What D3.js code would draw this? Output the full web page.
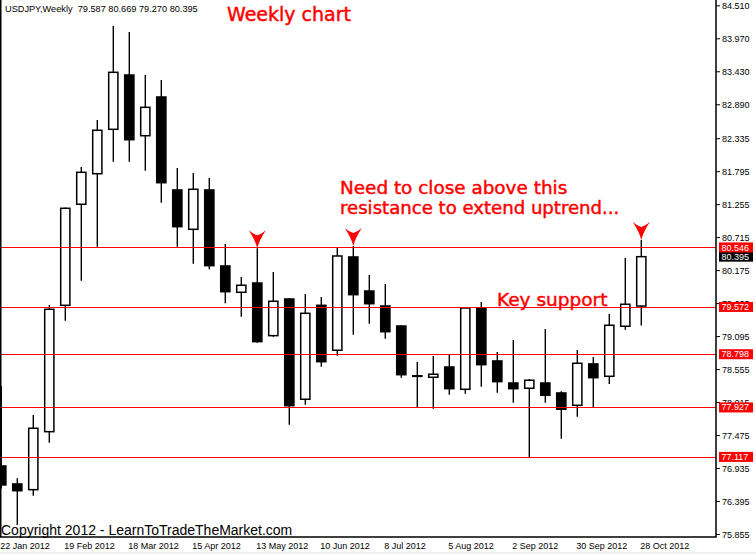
<!DOCTYPE html>
<html><head><meta charset="utf-8">
<script src="https://cdn.jsdelivr.net/npm/d3@7"></script>
<style>body{margin:0;background:#fff;} svg{display:block;}</style>
</head><body>
<svg id="c" width="756" height="554"></svg>
<script>
// ---- data ----
const symbolTitle = "USDJPY,Weekly";
const opens  = [76.969, 76.674, 76.581, 77.530, 79.599, 81.253, 81.753, 82.480, 83.369, 82.375, 83.009, 81.487, 80.843, 81.487, 80.243, 79.812, 79.964, 79.102, 79.702, 78.061, 79.599, 78.863, 80.390, 79.833, 79.588, 79.260, 78.445, 78.421, 78.589, 78.224, 79.555, 78.688, 78.327, 78.241, 78.327, 78.164, 77.962, 78.639, 78.437, 79.256, 79.587];
const highs  = [78.278, 76.767, 77.804, 79.604, 81.200, 81.863, 82.632, 84.171, 84.073, 83.369, 83.287, 81.847, 81.765, 81.683, 80.603, 80.063, 80.532, 80.144, 79.714, 79.784, 79.735, 80.549, 80.570, 80.095, 79.948, 79.272, 78.671, 78.769, 78.791, 79.556, 79.653, 78.835, 79.031, 78.393, 79.211, 78.192, 78.868, 78.753, 79.457, 80.374, 80.669];
const lows   = [76.600, 76.003, 76.483, 77.350, 79.347, 80.002, 80.558, 81.950, 81.950, 81.803, 81.279, 80.558, 80.280, 80.189, 79.632, 79.413, 78.987, 79.085, 77.645, 77.972, 78.594, 78.774, 79.118, 79.298, 79.053, 78.414, 77.935, 77.907, 78.136, 78.152, 78.267, 78.169, 78.005, 77.116, 78.005, 77.416, 77.776, 77.935, 78.311, 79.200, 79.270];
const closes = [76.658, 76.564, 77.586, 79.534, 81.187, 81.776, 82.464, 83.413, 82.310, 82.840, 81.606, 80.886, 81.498, 80.248, 79.822, 79.927, 79.004, 79.665, 77.956, 79.468, 78.676, 80.406, 79.773, 79.625, 79.167, 78.463, 78.440, 78.470, 78.234, 79.555, 78.627, 78.349, 78.234, 78.372, 78.126, 77.897, 78.650, 78.414, 79.272, 79.616, 80.395];
const dateTickIdx = [0, 4, 8, 12, 16, 20, 24, 28, 32, 36, 40];
const dateTickLabels = ["22 Jan 2012", "19 Feb 2012", "18 Mar 2012", "15 Apr 2012", "13 May 2012", "10 Jun 2012", "8 Jul 2012", "5 Aug 2012", "2 Sep 2012", "30 Sep 2012", "28 Oct 2012"];
const priceTicks = [84.510, 83.970, 83.430, 82.890, 82.335, 81.795, 81.255, 80.715, 80.175, 79.635, 79.095, 78.555, 78.015, 77.475, 76.935, 76.395, 75.855];
const levels = [80.546, 79.572, 78.798, 77.927, 77.117];
const arrowIdx = [16, 22, 40];
const notes = [
  {text: "Weekly chart", x: 227, y: 21, size: 19},
  {text: "Need to close above this", x: 340, y: 194, size: 18.4},
  {text: "resistance to extend uptrend...", x: 340, y: 214, size: 18.1},
  {text: "Key support", x: 497, y: 306, size: 18.5}
];
const copyright = "Copyright 2012 - LearnToTradeTheMarket.com";

// ---- layout ----
const svg = d3.select("#c");
const plotR = 716, plotB = 537;
const y = d3.scaleLinear().domain([75.855, 84.510]).range([534, 5.3]);
const x = d3.scaleLinear().domain([0, 40]).range([1.3, 641.3]);
const red = "#ff0000";
const axisFont = "'Liberation Sans', Arial, sans-serif";
const noteFont = "'DejaVu Sans', Verdana, sans-serif";

svg.append("rect").attr("width", 756).attr("height", 554).attr("fill", "#fff");
svg.append("rect").attr("x", 0).attr("y", 552).attr("width", 756).attr("height", 2).attr("fill", "#f0f0f0");

svg.append("defs").append("clipPath").attr("id", "plot")
  .append("rect").attr("x", 0).attr("y", 0).attr("width", plotR).attr("height", plotB);

const candles = d3.range(opens.length).map(i => ({i, o: opens[i], h: highs[i], l: lows[i], c: closes[i]}));
const g = svg.append("g").attr("clip-path", "url(#plot)");

g.selectAll("line.wick").data(candles).join("line")
  .attr("class", "wick")
  .attr("x1", d => x(d.i)).attr("x2", d => x(d.i))
  .attr("y1", d => y(d.h)).attr("y2", d => y(d.l))
  .attr("stroke", "#000").attr("stroke-width", 1.4);

const bw = 9.2;
g.selectAll("rect.body").data(candles).join("rect")
  .attr("class", "body")
  .attr("x", d => x(d.i) - bw / 2)
  .attr("y", d => y(Math.max(d.o, d.c)))
  .attr("width", bw)
  .attr("height", d => Math.max(0.6, Math.abs(y(d.o) - y(d.c))))
  .attr("fill", d => d.c >= d.o ? "#fff" : "#000")
  .attr("stroke", "#000").attr("stroke-width", 1.5);

// support / resistance lines
g.selectAll("line.level").data(levels).join("line")
  .attr("class", "level")
  .attr("x1", 0).attr("x2", plotR)
  .attr("y1", d => Math.round(y(d)) + 0.5).attr("y2", d => Math.round(y(d)) + 0.5)
  .attr("stroke", red).attr("stroke-width", 1).attr("shape-rendering", "crispEdges");

// frame
svg.append("path")
  .attr("d", `M0.75,0 V${plotB} H${plotR} V0`)
  .attr("fill", "none").attr("stroke", "#000").attr("stroke-width", 1.5);

// right price axis
const yAxis = d3.axisRight(y).tickValues(priceTicks).tickFormat(d => d.toFixed(3)).tickSize(4).tickPadding(2);
const ax = svg.append("g").attr("transform", `translate(${plotR},0)`).call(yAxis);
ax.select(".domain").remove();
ax.selectAll(".tick line").attr("stroke", "#000");
ax.selectAll(".tick text").attr("font-family", axisFont).attr("font-size", 9).attr("fill", "#000").attr("dy", "0.34em");

// current price label (black) and level labels (red)
const cur = closes[closes.length - 1];
const labG = svg.append("g");
function priceLabel(v, bg) {
  const yy = y(v);
  labG.append("rect").attr("x", 719).attr("y", yy - 5).attr("width", 34).attr("height", 10).attr("fill", bg);
  labG.append("text").attr("x", 721.5).attr("y", yy).attr("dy", "0.34em")
    .attr("font-family", axisFont).attr("font-size", 9).attr("fill", "#fff").text(v.toFixed(3));
}
priceLabel(cur, "#000");
levels.forEach(v => priceLabel(v, red));

// bottom date labels
svg.append("g").selectAll("text").data(dateTickIdx).join("text")
  .attr("x", (d) => x(d) - 1).attr("y", 549)
  .attr("font-family", axisFont).attr("font-size", 9).attr("fill", "#000")
  .text((d, k) => dateTickLabels[k]);

// header
const last = candles[candles.length - 1];
svg.append("text").attr("x", 5).attr("y", 12)
  .attr("font-family", axisFont).attr("font-size", 9.2).attr("fill", "#000")
  .style("white-space", "pre")
  .text(`${symbolTitle}  ${last.o.toFixed(3)} ${last.h.toFixed(3)} ${last.l.toFixed(3)} ${last.c.toFixed(3)}`);

// copyright
svg.append("text").attr("x", 1).attr("y", 535)
  .attr("font-family", axisFont).attr("font-size", 14).attr("fill", "#000").text(copyright);

// annotations
svg.append("g").selectAll("text").data(notes).join("text")
  .attr("x", d => d.x).attr("y", d => d.y)
  .attr("font-family", noteFont).attr("font-size", d => d.size).attr("fill", red)
  .attr("stroke", red).attr("stroke-width", 0.45)
  .text(d => d.text);

// arrows at highs
svg.append("g").selectAll("path").data(arrowIdx).join("path")
  .attr("d", i => {
    const cx = x(i), ty = y(highs[i]);
    return `M${cx - 8.5},${ty - 18} Q${cx - 4},${ty - 14} ${cx},${ty - 13} Q${cx + 4},${ty - 14} ${cx + 8.5},${ty - 18} Q${cx + 2},${ty - 8} ${cx},${ty} Q${cx - 2},${ty - 8} ${cx - 8.5},${ty - 18} Z`;
  })
  .attr("fill", red);
</script>
</body></html>
